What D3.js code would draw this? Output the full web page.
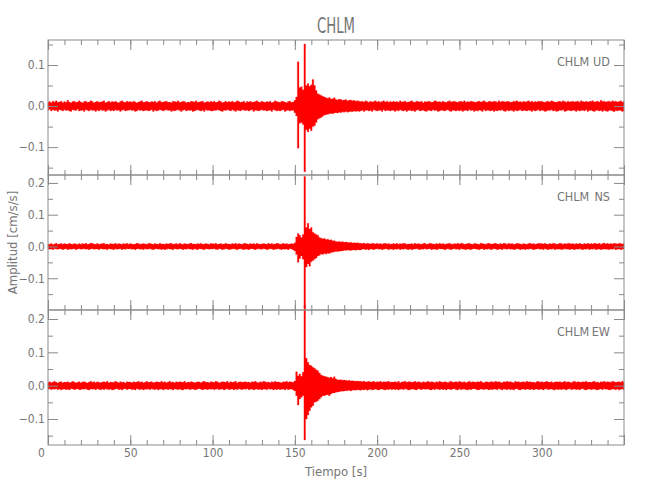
<!DOCTYPE html>
<html><head><meta charset="utf-8">
<script src="https://cdn.jsdelivr.net/npm/d3@7"></script>
<style>body{margin:0;background:#fff}svg{display:block}</style>
</head><body><svg id="c" width="650" height="500"></svg>
<script>
// ---------------- data ----------------
const chartTitle = "CHLM";
const stationName = "CHLM";
const components = ["UD", "NS", "EW"];
const xLabel = "Tiempo [s]";
const yLabel = "Amplitud [cm/s/s]";
const timeDomain = [0, 350];
const xMajorTicks = [0, 50, 100, 150, 200, 250, 300, 350];
const xTickLabels = [0, 50, 100, 150, 200, 250, 300];
const xMinorTicks = d3.range(0, 351, 10);
const binStep = 1;        // s per envelope bin
const ampUnit = 0.001;    // envelope values are in 0.001 cm/s/s

const udDomain = [-0.168, 0.161];
const nsDomain = [-0.200, 0.225];
const ewDomain = [-0.178, 0.227];
const udTicks = [-0.1, 0.0, 0.1];
const nsTicks = [-0.1, 0.0, 0.1, 0.2];
const ewTicks = [-0.1, 0.0, 0.1, 0.2];
const udMinor = [-0.15, -0.05, 0.05, 0.15];
const nsMinor = [-0.15, -0.05, 0.05, 0.15];
const ewMinor = [-0.15, -0.05, 0.05, 0.15];

// per-second envelope of each trace: peak above zero (High) and depth below zero (Low)
const udHigh = [
9,11,8,12,10,13,9,10,12,8, 11,9,14,10,8,11,12,9,10,13,
10,8,11,12,9,10,13,11,8,10, 12,9,10,11,13,8,10,12,9,11,
10,12,9,8,11,13,10,9,12,10, 11,9,12,10,8,10,11,13,9,10,
12,10,9,11,10,12,8,11,13,9, 10,11,12,9,10,8,12,11,10,13,
9,10,12,11,8,10,9,12,11,10, 13,9,10,11,12,8,10,11,9,12,
10,12,9,10,13,11,8,10,12,9, 11,10,12,9,10,13,11,9,10,12,
8,11,10,12,9,10,11,13,10,9, 12,10,9,11,10,12,8,10,13,11,
10,9,12,11,10,8,11,12,9,10,
14,22,108,45,47,40,151,50,55,48, 52,65,50,38,30,28,26,24,22,20,
19,21,17,18,20,16,15,17,16,14, 15,16,13,14,15,13,14,12,13,12,
11,12,10,13,11,9,12,10,11,13, 10,12,9,11,13,10,12,9,11,10,
12,10,11,9,13,10,11,12,9,10, 11,13,10,9,12,11,10,12,8,11,
10,12,11,9,10,13,12,10,11,9, 12,10,9,11,13,10,11,12,10,9,
11,12,10,13,9,11,10,12,11,10, 9,11,12,10,11,13,10,9,12,11,
10,12,11,9,13,10,12,11,10,12, 11,9,10,12,11,13,10,11,9,12,
10,11,13,10,12,9,11,10,12,11, 12,10,9,11,12,10,13,11,10,9,
11,12,10,13,11,9,12,10,11,12, 10,11,12,9,13,11,10,12,10,11,
12,13,10,11,12,10,14,11,12,10, 11,12,10,13,11,12,10,11,13,10,
11];
const udLow = [
10,8,12,9,11,10,13,9,10,12, 9,11,10,12,13,9,10,11,8,12,
11,10,13,9,10,12,9,11,10,13, 10,12,9,11,10,13,11,9,12,10,
12,9,11,10,13,10,9,12,11,10, 9,11,10,13,12,9,11,10,12,11,
10,12,11,9,13,10,12,11,9,10, 12,10,9,11,10,13,11,12,10,9,
11,13,10,9,12,10,11,10,13,12, 10,9,11,12,10,13,9,11,10,12,
12,10,11,9,10,12,13,10,11,9, 10,12,9,11,13,10,11,12,9,10,
11,10,12,10,9,13,10,11,12,10, 9,11,10,12,11,10,13,9,10,12,
11,12,10,9,13,11,10,12,10,11,
16,24,103,42,40,45,160,58,63,55, 60,50,48,40,32,30,28,25,22,21,
20,19,18,19,17,16,17,15,16,14, 15,13,15,14,13,14,12,13,12,13,
12,10,13,11,10,12,11,13,9,11, 12,11,10,13,9,12,10,11,12,10,
11,13,10,12,9,11,12,10,13,11, 10,12,11,13,10,9,12,11,10,12,
13,10,11,12,9,11,10,13,12,10, 11,12,10,9,12,13,10,11,12,10,
12,10,13,11,10,12,9,11,10,13, 11,12,10,11,13,9,12,10,11,12,
10,13,11,12,10,11,9,12,13,10, 12,10,11,13,10,12,11,9,12,11,
11,12,10,11,13,10,12,11,9,12, 10,11,13,12,10,11,9,12,11,13,
12,10,11,9,13,12,10,11,12,10, 11,13,10,12,11,10,12,9,13,11,
10,12,13,11,10,12,11,13,10,12, 13,11,10,12,14,11,12,10,11,13,
12];

const nsHigh = [
8,7,9,6,8,10,7,8,9,7, 9,8,7,10,8,7,9,8,6,9,
7,9,8,10,7,8,11,9,8,7, 9,7,8,9,10,7,8,6,9,8,
8,10,7,9,8,7,9,8,10,7, 9,8,7,8,10,9,7,8,9,8,
7,9,10,8,7,9,8,7,10,8, 8,7,9,8,9,10,7,8,9,7,
10,8,7,9,8,7,9,10,8,8, 7,9,8,10,7,8,9,8,7,9,
9,8,10,7,8,9,7,8,10,8, 8,7,9,8,10,7,9,8,7,9,
10,8,7,9,8,9,7,10,8,7, 8,9,8,7,10,8,9,7,8,10,
9,7,8,10,8,9,7,8,9,8,
12,30,41,35,28,38,220,60,73,55, 60,45,41,38,35,28,26,24,25,22,
23,20,21,18,18,16,15,16,14,15, 13,14,13,12,13,11,12,11,12,10,
10,9,11,8,10,9,8,10,9,8, 10,8,9,7,9,10,8,9,7,8,
9,8,10,7,9,8,10,9,7,8, 8,9,7,10,8,9,8,7,9,10,
7,8,10,9,8,7,9,8,10,8, 9,7,8,9,10,8,7,9,8,10,
8,10,9,7,8,9,10,8,7,9, 9,8,7,10,9,8,7,9,10,8,
8,9,10,8,7,9,8,10,9,7, 10,8,9,7,8,10,9,8,7,9,
8,7,9,10,8,9,7,8,10,9, 9,8,10,8,7,9,8,10,9,7,
8,10,9,7,9,8,10,9,8,9, 7,9,8,10,8,7,9,8,10,8,
9,8,10,9,8,10,7,9,11,8, 10,8,9,8,10,9,8,10,9,8,
9];
const nsLow = [
7,9,8,10,7,8,9,7,8,10, 8,7,10,8,9,8,7,10,8,7,
9,8,7,9,8,10,8,7,9,8, 8,10,7,8,9,8,10,7,8,9,
10,7,9,8,7,10,8,9,7,8, 7,9,8,10,8,7,9,8,10,7,
9,8,7,9,10,8,7,9,8,10, 8,10,9,7,8,9,10,7,8,9,
7,8,10,8,9,7,8,9,10,7, 9,10,7,8,9,10,7,8,9,8,
8,7,9,10,7,8,10,9,7,8, 10,9,8,7,9,10,8,7,9,10,
8,9,10,8,7,9,10,8,7,9, 9,7,8,10,9,7,8,10,9,8,
7,9,10,8,9,8,10,7,8,11,
14,25,50,38,30,40,192,65,55,62, 48,44,40,36,30,28,24,25,22,24,
21,22,19,18,17,16,16,15,14,14, 12,13,11,12,13,11,11,12,10,11,
11,9,8,10,9,11,8,9,10,8, 7,9,8,10,9,7,8,10,8,9,
10,8,9,7,10,8,9,7,9,10, 8,10,9,8,7,9,10,8,9,7,
9,8,7,10,9,8,10,9,7,8, 8,10,9,7,9,10,8,7,9,8,
10,7,8,9,10,8,9,10,8,7, 8,9,10,8,7,10,8,9,7,10,
9,7,8,10,9,8,10,7,8,9, 7,9,8,10,9,7,8,10,9,8,
10,8,9,7,8,10,9,8,7,9, 8,10,7,9,10,8,9,7,10,8,
9,8,10,9,7,9,8,10,8,9, 10,8,9,7,9,10,8,9,7,10,
8,9,7,10,9,8,10,9,8,9, 9,10,8,9,7,10,9,8,10,9,
8];

const ewHigh = [
10,12,9,11,13,10,8,11,12,9, 11,10,12,9,10,13,11,9,10,12,
9,11,12,10,8,11,13,10,12,9, 12,10,9,11,12,10,13,9,11,10,
10,13,11,9,12,10,11,8,12,11, 11,9,12,10,11,13,10,12,9,10,
13,10,11,12,9,10,12,11,10,13, 10,12,9,11,13,10,11,9,12,10,
12,11,10,13,9,11,10,12,11,9, 10,12,11,9,12,13,10,11,9,12,
11,10,13,12,9,10,12,11,10,13, 9,12,10,11,13,9,11,12,10,11,
12,10,11,9,12,11,13,10,9,12, 10,13,12,10,11,9,12,10,13,11,
11,10,9,12,11,13,10,12,11,10,
14,42,30,35,28,40,240,82,70,62, 60,55,52,48,45,38,32,30,28,27,
25,24,26,22,27,20,18,17,18,16, 17,16,15,16,14,15,14,13,14,13,
13,12,14,11,12,13,11,12,13,10, 12,11,13,10,12,11,12,13,10,11,
11,12,10,13,9,11,12,13,10,12, 12,10,11,13,10,12,11,9,12,10,
11,13,10,12,11,9,12,10,13,11, 10,12,11,9,12,13,10,11,12,10,
13,11,10,12,9,11,13,10,12,11, 10,12,11,13,10,9,12,11,10,12,
12,10,13,11,12,10,9,12,11,13, 11,12,10,9,13,11,12,10,11,12,
10,13,11,12,10,11,9,12,13,10, 12,10,11,13,11,10,12,9,11,12,
11,12,10,11,13,10,12,11,9,12, 13,10,12,11,10,12,11,13,10,11,
10,12,13,10,11,9,12,11,13,10, 12,11,10,13,12,10,11,12,10,13,
11];
const ewLow = [
11,9,12,10,11,9,12,10,13,11, 10,12,11,13,9,10,12,11,9,12,
12,10,11,9,12,13,10,11,10,12, 9,11,13,10,12,9,11,12,10,13,
12,10,9,12,11,13,10,9,12,10, 10,12,11,13,9,11,12,10,13,11,
11,10,12,9,11,12,10,13,11,10, 13,11,10,12,10,11,13,9,11,12,
10,12,13,10,11,9,12,11,10,12, 12,10,9,11,13,10,11,12,10,11,
10,12,11,9,12,11,10,13,11,9, 12,11,10,13,10,12,9,11,12,10,
11,9,12,11,10,13,11,10,12,11, 13,10,11,12,9,11,10,13,11,12,
10,12,11,10,13,9,12,11,10,13,
16,30,58,40,35,30,163,100,88,75, 65,60,50,48,45,40,35,30,30,28,
27,30,25,22,22,20,19,18,17,17, 16,15,15,14,16,14,13,14,12,13,
14,12,13,11,14,12,11,13,12,10, 12,13,11,10,12,13,11,12,10,12,
10,12,11,13,11,10,12,9,11,13, 12,11,10,12,13,9,11,12,10,11,
11,10,12,13,10,12,9,11,12,10, 12,11,13,10,11,12,10,9,12,13,
9,12,11,10,12,13,11,12,10,9, 11,13,12,10,11,12,10,11,13,11,
12,10,11,12,9,11,13,10,11,12, 10,12,11,13,10,9,12,13,11,10,
12,10,11,12,10,13,11,10,12,11, 11,13,10,9,12,11,10,12,13,10,
12,11,12,10,11,13,10,9,12,11, 10,12,11,13,10,9,12,13,11,10,
12,11,10,12,13,11,10,12,9,11, 11,13,12,10,11,12,10,13,11,10,
12];

// ---------------- drawing ----------------
const left = 48, right = 624, top0 = 40, panelH = 135;
const axisColor = "#8a8a8a", textColor = "#767676", traceColor = "#ff0000";
const font = "'Liberation Sans Narrow','DejaVu Sans Condensed','Liberation Sans',sans-serif";

const panels = [
  {comp: components[0], high: udHigh, low: udLow, domain: udDomain, ticks: udTicks, minor: udMinor},
  {comp: components[1], high: nsHigh, low: nsLow, domain: nsDomain, ticks: nsTicks, minor: nsMinor},
  {comp: components[2], high: ewHigh, low: ewLow, domain: ewDomain, ticks: ewTicks, minor: ewMinor}
];

const svg = d3.select("#c").attr("font-family", font);
const x = d3.scaleLinear().domain(timeDomain).range([left, right]);
const fmt = d => d === 0 ? "0.0" : (d < 0 ? "\u2212" : "") + Math.abs(d).toFixed(1);

function styleAxis(g) {
  g.select(".domain").remove();
  g.selectAll(".tick line").attr("stroke", axisColor).attr("stroke-width", 1);
  g.selectAll(".tick text").attr("fill", textColor).attr("font-size", 12).attr("font-family", font);
}

// traces first (not clipped: big spikes run past the frame like the original)
panels.forEach((p, i) => {
  const top = top0 + i * panelH;
  p.y = d3.scaleLinear().domain(p.domain).range([top + panelH, top]);
  const rows = p.high.map((h, j) => ({t: j * binStep, hi: h * ampUnit, lo: -p.low[j] * ampUnit}));
  const area = d3.area()
    .curve(d3.curveStep)
    .x(d => x(d.t))
    .y0(d => p.y(d.lo))
    .y1(d => p.y(d.hi));
  svg.append("path").datum(rows).attr("d", area)
    .attr("fill", traceColor).attr("stroke", traceColor).attr("stroke-width", 0.4)
    .attr("stroke-opacity", 0.6);
});

// axes / frames on top
panels.forEach((p, i) => {
  const top = top0 + i * panelH, bottom = top + panelH;
  const y = p.y;
  svg.append("g").attr("transform", `translate(${left},0)`)
    .call(d3.axisLeft(y).tickValues(p.ticks).tickSize(-10).tickSizeOuter(0).tickPadding(3).tickFormat(fmt))
    .call(styleAxis);
  svg.append("g").attr("transform", `translate(${left},0)`)
    .call(d3.axisLeft(y).tickValues(p.minor).tickSize(-5).tickSizeOuter(0).tickFormat(""))
    .call(styleAxis);
  svg.append("g").attr("transform", `translate(${right},0)`)
    .call(d3.axisRight(y).tickValues(p.ticks).tickSize(-10).tickSizeOuter(0).tickFormat(""))
    .call(styleAxis);
  svg.append("g").attr("transform", `translate(${right},0)`)
    .call(d3.axisRight(y).tickValues(p.minor).tickSize(-5).tickSizeOuter(0).tickFormat(""))
    .call(styleAxis);
  svg.append("g").attr("transform", `translate(0,${top})`)
    .call(d3.axisTop(x).tickValues(xMajorTicks).tickSize(-10).tickSizeOuter(0).tickFormat(""))
    .call(styleAxis);
  svg.append("g").attr("transform", `translate(0,${top})`)
    .call(d3.axisTop(x).tickValues(xMinorTicks).tickSize(-5).tickSizeOuter(0).tickFormat(""))
    .call(styleAxis);
  const isLast = i === panels.length - 1;
  svg.append("g").attr("transform", `translate(0,${bottom})`)
    .call(d3.axisBottom(x).tickValues(xMajorTicks).tickSize(-10).tickSizeOuter(0)
      .tickPadding(3).tickFormat(d => (isLast && xTickLabels.includes(d)) ? String(d) : ""))
    .call(styleAxis)
    .call(g => g.selectAll(".tick text").filter(d => d === 0).attr("dx", -7));
  svg.append("g").attr("transform", `translate(0,${bottom})`)
    .call(d3.axisBottom(x).tickValues(xMinorTicks).tickSize(-5).tickSizeOuter(0).tickFormat(""))
    .call(styleAxis);
  svg.append("rect").attr("x", left).attr("y", top).attr("width", right - left).attr("height", panelH)
    .attr("fill", "none").attr("stroke", axisColor).attr("stroke-width", 1);
  svg.append("text").attr("x", 557).attr("y", top + 26).attr("font-size", 12.5)
    .attr("fill", textColor).text(stationName);
  svg.append("text").attr("x", 610).attr("y", top + 26).attr("font-size", 12.5)
    .attr("text-anchor", "end").attr("fill", textColor).text(p.comp);
});

svg.append("text").attr("x", (left + right) / 2).attr("y", 33).attr("text-anchor", "middle")
  .attr("font-size", 22).attr("fill", textColor).attr("textLength", 38).attr("lengthAdjust", "spacingAndGlyphs")
  .text(chartTitle);
svg.append("text").attr("x", (left + right) / 2).attr("y", 476).attr("text-anchor", "middle")
  .attr("font-size", 13).attr("fill", textColor).text(xLabel);
svg.append("text").attr("transform", `translate(17,${(top0 + top0 + 3 * panelH) / 2}) rotate(-90)`)
  .attr("text-anchor", "middle").attr("font-size", 13).attr("fill", textColor).text(yLabel);
</script></body></html>
